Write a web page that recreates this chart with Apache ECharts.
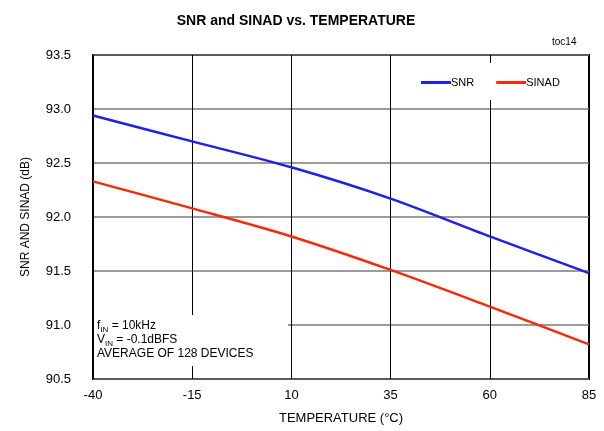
<!DOCTYPE html>
<html>
<head>
<meta charset="utf-8">
<script src="https://cdn.jsdelivr.net/npm/echarts@6/dist/echarts.min.js"></script>
<style>
  html, body { margin: 0; padding: 0; background: #fff; }
  #chart { width: 604px; height: 431px; }
</style>
</head>
<body>
<div id="chart"></div>
<script>
// temperature points (°C)
const temps = [-40, -15, 10, 35, 60, 85];
const snr = [92.94, 92.70, 92.46, 92.17, 91.82, 91.48];
const sinad = [92.33, 92.08, 91.82, 91.51, 91.17, 90.82];
const xTicks = [-40, -15, 10, 35, 60, 85];
const yTicks = [90.5, 91.0, 91.5, 92.0, 92.5, 93.0, 93.5];

// ticks counted from min, so shift x by the first tick
const xOff = xTicks[0];
const font = 'Liberation Sans, Arial, sans-serif';

const chart = echarts.init(document.getElementById('chart'));

const option = {
  animation: false,
  title: {
    text: 'SNR and SINAD vs. TEMPERATURE',
    left: 291, top: 9, textAlign: 'center',
    textStyle: { fontFamily: font, fontSize: 14, fontWeight: 'bold', color: '#000' }
  },
  grid: {
    left: 93, right: 15, top: 55, bottom: 52,
    show: true, borderColor: '#000', borderWidth: 2
  },
  legend: {
    left: 421, top: 77, padding: 0,
    itemWidth: 30, itemHeight: 3, itemGap: 22, icon: 'rect',
    textStyle: { fontFamily: font, fontSize: 11, color: '#000', padding: [0, 0, 0, -5] },
    data: ['SNR', 'SINAD']
  },
  xAxis: {
    type: 'value',
    min: 0, max: xTicks[xTicks.length - 1] - xOff, interval: 25,
    name: 'TEMPERATURE (°C)', nameLocation: 'middle', nameGap: 33,
    nameTextStyle: { fontFamily: font, fontSize: 13, color: '#000' },
    axisLine: { show: false }, axisTick: { show: false },
    axisLabel: { fontFamily: font, fontSize: 13, color: '#000', margin: 10,
      formatter: v => String(v + xOff) },
    splitLine: { show: true, lineStyle: { color: '#000', width: 1 } }
  },
  yAxis: {
    type: 'value',
    min: yTicks[0], max: yTicks[yTicks.length - 1], interval: 0.5,
    name: 'SNR AND SINAD (dB)', nameLocation: 'middle', nameGap: 61,
    nameTextStyle: { fontFamily: font, fontSize: 12, color: '#000' },
    axisLine: { show: false }, axisTick: { show: false },
    axisLabel: { fontFamily: font, fontSize: 13, color: '#000', margin: 22,
      formatter: v => v.toFixed(1) },
    splitLine: { show: true, lineStyle: { color: '#7a7a7a', width: 1.5 } }
  },
  graphic: [
    { type: 'rect', z: 1, shape: { x: 398, y: 63, width: 190, height: 37 }, style: { fill: '#fff' } },
    { type: 'rect', z: 1, shape: { x: 94, y: 315, width: 194, height: 51 }, style: { fill: '#fff' } },
    { type: 'text', z: 2, left: 97, top: 319,
      style: {
        text: 'f{s|IN} = 10kHz\nV{s|IN} = -0.1dBFS\nAVERAGE OF 128 DEVICES',
        fontFamily: font, fontSize: 12, lineHeight: 14, fill: '#000',
        rich: { s: { fontFamily: font, fontSize: 8, lineHeight: 8, verticalAlign: 'top', padding: [7, 0, 0, 0] } }
      }
    },
    { type: 'text', left: 552, top: 37,
      style: { text: 'toc14', fontFamily: font, fontSize: 10, fill: '#000' } }
  ],
  series: [
    {
      name: 'SNR', type: 'line', smooth: 0.3, symbol: 'none',
      lineStyle: { color: '#1f1fe6', width: 2.5 }, itemStyle: { color: '#1f1fe6' },
      data: temps.map((t, i) => [t - xOff, snr[i]])
    },
    {
      name: 'SINAD', type: 'line', smooth: 0.3, symbol: 'none',
      lineStyle: { color: '#f52a0a', width: 2.5 }, itemStyle: { color: '#f52a0a' },
      data: temps.map((t, i) => [t - xOff, sinad[i]])
    }
  ]
};

chart.setOption(option);
</script>
</body>
</html>
